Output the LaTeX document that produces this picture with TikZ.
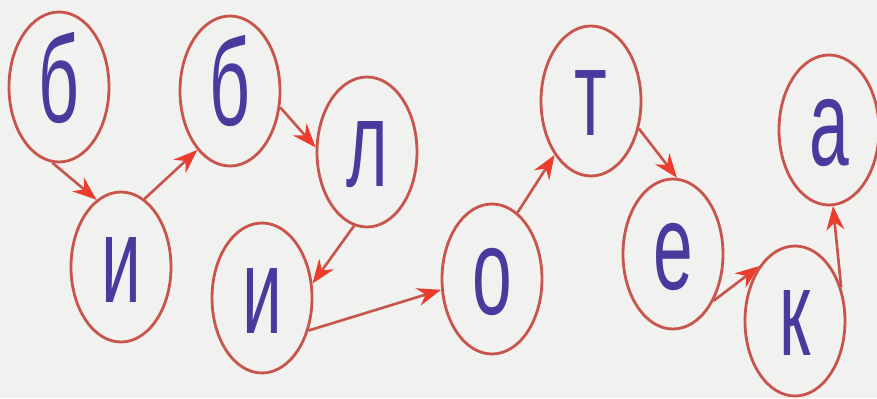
\documentclass[tikz,border=0pt]{standalone}
\usepackage{fontspec}
\setmainfont{Liberation Sans}
\newfontfamily\letterfont[FakeStretch=0.58]{Liberation Sans}
\usetikzlibrary{arrows.meta,shapes.geometric}
\definecolor{ringred}{RGB}{200,85,75}
\definecolor{tipred}{RGB}{235,60,45}
\definecolor{inkblue}{RGB}{75,58,158}
\definecolor{paper}{RGB}{241,241,239}

\begin{document}
\begin{tikzpicture}[
  letter/.style={ellipse,draw=ringred,line width=0.8pt,minimum width=1.0cm,
    minimum height=1.5cm,inner sep=0pt,text=inkblue,
    font=\letterfont\fontsize{35}{35}\selectfont,
    text height=0.78cm,text depth=0.08cm},
  link/.style={draw=ringred,line width=0.75pt,
    -{Stealth[length=0.24cm,width=0.18cm,color=tipred,fill=tipred]}}]
\path[use as bounding box] (0,0) rectangle (8.77,3.98);
\fill[paper] (0,0) rectangle (8.77,3.98);
% letters of the word
\node[letter] (b1) at (0.59,3.11) {б};
\node[letter] (i1) at (1.21,1.31) {и};
\node[letter] (b2) at (2.30,3.07) {б};
\node[letter] (l)  at (3.67,2.46) {л};
\node[letter] (i2) at (2.62,1.00) {и};
\node[letter] (o)  at (4.92,1.19) {о};
\node[letter] (t)  at (5.91,2.97) {т};
\node[letter] (e)  at (6.73,1.44) {е};
\node[letter] (k)  at (7.95,0.77) {к};
\node[letter] (a)  at (8.29,2.68) {а};
% reading order
\draw[link] (b1.-95) -- (i1.110);
\draw[link] (i1.71) -- (b2.241);
\draw[link] (b2.-18) -- (l.175);
\draw[link] (l.-100) -- (i2.16);
\draw[link] (i2.-35) -- (o.192);
\draw[link] (o.69) -- (t.236);
\draw[link] (t.-30) -- (e.87);
\draw[link] (e.-49) -- (k.123);
\draw[link] (k.36) -- (a.-87);
\end{tikzpicture}
\end{document}
